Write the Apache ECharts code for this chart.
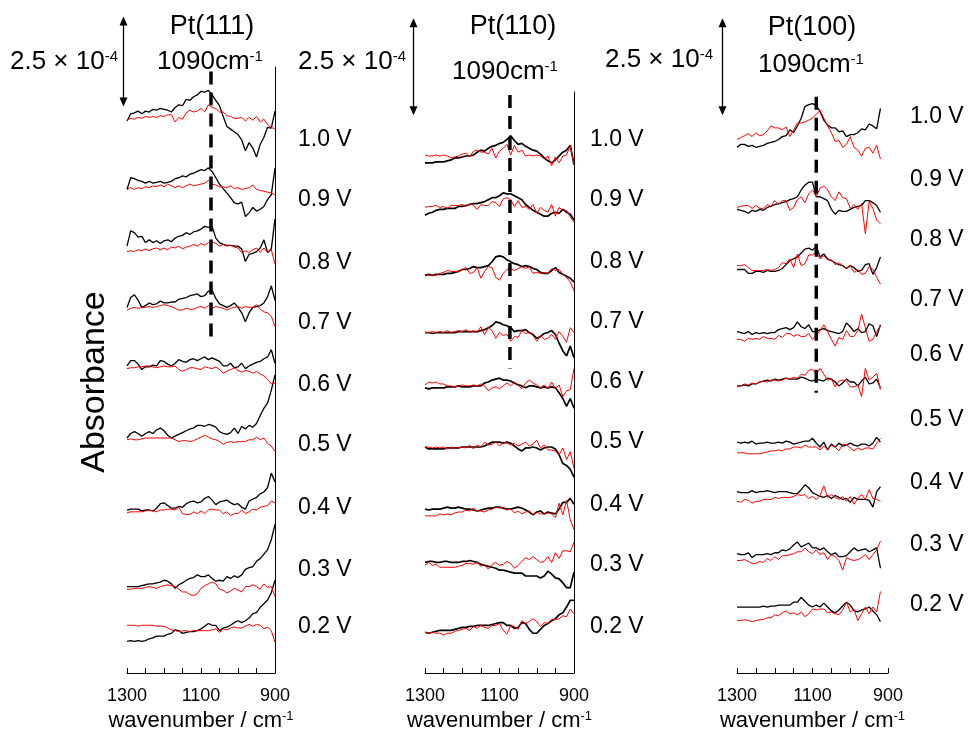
<!DOCTYPE html>
<html><head><meta charset="utf-8">
<script src="https://cdn.jsdelivr.net/npm/echarts@6/dist/echarts.min.js"></script>
<style>html,body{margin:0;padding:0;background:#fff}#c{width:969px;height:730px}</style>
</head><body><div id="c"></div>
<script>
// ---------------- DATA ----------------
// y values: absorbance in units of 2.5e-6 (scale bar 2.5e-4 = 100 units)
const voltages = ['1.0 V','0.9 V','0.8 V','0.7 V','0.6 V','0.5 V','0.4 V','0.3 V','0.2 V'];
const panelTitles = ['Pt(111)','Pt(110)','Pt(100)'];
const tickLabels = [1300, 1100, 900];
const wnFull = [1300,1290,1280,1270,1260,1250,1240,1230,1220,1210,1200,1190,1180,1170,1160,1150,1140,1130,1120,1110,1100,1090,1080,1070,1060,1050,1040,1030,1020,1010,1000,990,980,970,960,950,940,930,920,910,900];
const wnShort = [1300,1290,1280,1270,1260,1250,1240,1230,1220,1210,1200,1190,1180,1170,1160,1150,1140,1130,1120,1110,1100,1090,1080,1070,1060,1050,1040,1030,1020,1010,1000,990,980,970,960,950,940,930,920];
const scaleBarUnits = 100; // 2.5e-4 absorbance

const offsets111 = [611,528,468,400,337,259,179,96,34];
const offsets110 = [526,472,410,351,294,232,169,114,42];
const offsets100 = [539,477,415,351,295,237,186,122,67];

const black111 = [
 [2,10,11,13,10,13,12,15,14,16,15,14,12,17,20,19,26,25,29,31,35,34,36,31,25,19,7,-4,-7,-10,-13,-19,-31,-22,-28,-38,-24,-16,-5,-6,13],
 [9,22,21,19,18,16,18,16,17,18,16,17,18,21,22,24,23,26,27,29,31,30,33,29,22,15,10,5,0,-6,-7,-5,-21,-17,-11,-15,-13,-10,-2,3,33],
 [6,23,21,16,17,10,13,10,12,9,12,13,11,15,17,18,21,19,22,23,25,28,27,28,15,10,8,7,7,6,6,3,-11,-3,-2,0,4,13,-1,3,36],
 [6,17,20,14,6,8,11,9,10,13,11,11,12,12,15,16,17,19,20,21,18,19,24,25,16,10,8,6,8,11,6,0,-10,0,6,7,8,11,18,30,14],
 [4,10,10,6,0,3,3,5,4,10,9,6,4,7,11,9,8,11,12,10,12,14,11,13,11,9,4,4,7,2,3,7,1,4,6,8,9,12,14,22,7],
 [2,7,9,7,4,7,9,7,11,13,10,5,2,4,6,8,10,12,13,16,16,15,17,16,14,9,7,6,8,13,7,15,12,16,14,18,27,35,41,55,72],
 [2,3,3,3,1,2,2,1,4,9,10,7,4,4,6,5,9,11,12,10,11,15,17,13,8,11,12,13,10,8,9,5,3,12,14,16,20,22,27,43,33],
 [0,0,0,0,1,2,3,3,4,5,7,6,3,-2,2,4,7,9,10,13,11,11,13,9,6,7,6,11,9,12,10,13,19,21,22,28,31,36,41,52,69],
 [1,2,1,2,1,2,4,5,7,7,7,9,10,14,13,10,11,12,12,13,15,18,21,19,19,13,16,17,19,22,24,22,24,27,32,33,39,43,47,55,69]
];
const red111 = [
 [3,5,4,6,5,7,6,7,6,8,7,9,9,1,6,4,11,14,12,13,16,12,20,17,16,12,12,8,7,5,5,6,2,6,3,7,1,4,-2,-5,-7],
 [9,11,9,11,10,12,11,13,12,14,12,15,13,11,13,11,13,15,13,14,15,16,19,15,14,12,12,11,13,10,11,9,10,11,14,9,8,7,6,5,3],
 [0,1,0,2,1,3,1,3,4,2,4,2,5,4,6,3,5,6,8,6,9,7,10,11,9,6,8,6,7,5,4,-1,1,-1,2,4,-1,4,-1,2,-14],
 [3,5,6,5,6,6,7,6,7,8,9,8,7,5,3,3,5,4,4,6,7,5,8,5,7,6,5,3,5,6,7,5,7,6,6,9,4,1,0,-4,-15],
 [1,2,2,3,3,4,4,3,2,3,4,3,3,4,0,-2,0,2,2,1,0,3,2,1,3,0,-4,-2,0,2,-1,-3,-1,-2,-4,-2,-5,-7,-11,-16,-15],
 [0,1,0,0,1,2,2,2,2,2,2,2,2,0,-2,-1,-1,-2,-1,1,3,5,3,1,0,-2,-5,-3,-2,-3,-2,-2,-2,0,0,3,0,2,-4,-7,-13],
 [-1,0,0,0,0,1,2,1,0,2,2,3,3,2,5,-2,-3,-3,0,-2,1,-2,2,3,2,2,-2,0,-4,-2,-2,2,-2,0,3,2,5,6,7,12,10],
 [-3,-3,-2,-2,-2,-1,0,-1,-2,0,1,2,1,0,-3,-6,-6,-9,-10,-8,-2,1,3,5,3,-3,-4,-7,-5,-2,-4,-6,0,0,2,0,-3,3,-1,0,-11],
 [19,19,19,18,19,19,19,19,18,18,18,16,14,13,12,13,13,12,13,13,13,13,13,14,15,11,15,14,16,17,16,16,18,20,18,20,19,15,17,13,0]
];
const black110 = [
 [0,0,0,1,1,1,2,3,5,5,6,7,7,8,11,13,12,15,17,18,20,21,24,28,23,19,20,17,15,13,12,9,5,2,0,3,7,11,13,18,-2],
 [0,2,3,5,6,6,7,7,7,9,9,10,11,12,12,13,14,16,18,18,20,23,22,22,20,18,16,11,8,5,3,1,-1,-1,2,3,2,6,3,1,-5],
 [0,1,0,1,1,1,2,2,3,4,6,6,7,9,8,8,9,10,14,19,20,19,16,14,12,11,9,10,9,7,6,3,2,2,5,8,3,1,-1,-3,-7],
 [0,0,-1,0,0,0,0,0,0,1,1,1,1,1,1,2,3,5,7,11,10,8,7,5,1,2,2,3,0,-2,-6,-4,-1,0,2,-2,-11,-19,-24,-14,-26],
 [0,-1,0,0,0,0,1,1,1,2,1,1,1,2,2,2,5,6,8,9,10,8,8,7,5,3,2,0,2,2,1,0,1,0,1,0,-5,-11,-19,-11,-21],
 [1,-1,-1,-1,-1,-1,0,0,0,0,1,1,1,1,1,1,2,4,6,6,6,5,6,5,2,-1,-3,0,0,1,0,-2,0,1,1,-1,-7,-16,-18,-22,-30],
 [0,-1,0,0,0,1,2,1,1,2,1,0,0,-1,-2,-1,0,1,1,2,2,1,0,0,1,2,1,-1,-3,-6,-3,-2,-5,-3,-4,-5,0,7,7,11,5],
 [0,1,1,0,0,1,1,0,0,0,1,1,2,1,0,-2,-3,-4,-5,-6,-8,-8,-9,-10,-11,-11,-11,-14,-14,-14,-14,-16,-14,-9,-12,-16,-17,-21,-26,-26,-10],
 [0,-1,0,1,2,2,2,2,3,4,5,5,6,6,7,7,7,7,8,9,10,10,7,7,4,5,10,9,3,-1,-1,3,7,9,12,14,18,20,26,33,33]
];
const red110 = [
 [8,7,7,8,7,8,7,5,6,7,9,10,6,12,13,11,11,9,15,5,12,15,19,8,18,11,13,7,8,7,8,7,4,7,-3,6,0,7,8,18,-2],
 [8,9,9,10,8,9,7,10,10,10,11,9,12,10,6,11,10,10,14,13,9,17,18,16,9,15,8,9,6,11,2,8,5,3,11,-1,8,5,5,-2,-7],
 [1,0,0,0,2,3,5,4,4,4,6,8,2,3,8,-3,4,9,8,-2,-5,2,6,7,5,7,9,7,9,2,3,2,3,2,7,5,6,1,-2,-7,-16],
 [0,0,1,0,1,0,2,0,1,2,1,3,0,2,0,6,-2,5,2,-6,0,-3,-2,-9,-4,-5,2,-1,0,-3,-9,-3,-7,-6,-2,-7,1,-4,-10,5,0],
 [3,6,5,6,4,4,2,2,1,2,3,2,2,3,2,4,2,-3,0,1,-1,2,5,2,6,3,-1,5,8,5,3,0,3,-1,6,-1,3,-9,-3,-2,20],
 [1,1,0,1,0,1,-1,1,0,0,1,0,3,-1,3,1,6,3,4,6,2,6,5,3,5,2,4,6,2,4,8,0,3,-2,-2,-3,-7,0,-12,-4,-21],
 [-7,-7,-7,-7,-5,-6,-5,-6,-4,-3,-3,-1,-2,1,-2,-2,-3,-1,0,2,1,2,-1,0,-4,-2,-5,-3,-2,-6,-3,-5,-5,-4,-5,-9,6,-6,9,-11,-21],
 [-3,0,-3,-2,-5,-5,-5,-5,-5,-4,-3,-1,-1,-2,0,-4,-2,-7,-2,0,-3,-2,1,-1,-6,-3,1,5,3,6,3,0,1,6,0,10,4,12,12,11,21],
 [0,-1,0,-1,-1,-3,-1,-1,1,2,3,4,2,6,4,7,5,4,7,7,9,2,-2,7,6,3,12,9,11,14,11,6,10,9,13,13,14,17,16,24,19]
];
const black100 = [
 [3,6,6,4,5,3,4,5,7,8,9,11,14,15,21,18,25,33,45,47,48,46,40,31,26,23,23,19,20,14,16,16,18,22,21,27,25,22,43],
 [1,0,-1,-3,0,-1,1,0,3,4,6,7,8,9,11,12,14,21,26,29,29,14,14,12,10,1,-4,0,-1,-1,1,3,4,5,10,10,8,5,-2],
 [1,1,1,-3,-3,-1,-1,-2,0,-1,-1,0,2,6,10,12,14,18,22,23,21,25,14,17,12,10,8,6,5,2,5,3,-1,0,6,7,-4,3,14],
 [1,0,-1,1,-2,0,-1,0,-1,0,0,3,4,5,3,5,11,6,4,8,1,1,3,4,2,1,0,-1,1,10,6,1,4,0,1,9,7,-4,8],
 [1,1,2,1,3,3,5,6,7,6,8,7,8,9,8,8,8,10,9,7,6,8,7,6,9,8,5,1,4,8,5,5,1,6,10,3,4,8,-1],
 [1,0,1,0,2,-1,0,0,1,0,0,1,0,2,1,-1,0,1,2,2,5,0,-4,1,-7,-1,-4,0,-3,-2,0,-2,-3,-1,-1,-3,0,6,1],
 [1,0,0,0,2,0,1,1,2,1,0,1,1,1,0,-1,-1,3,8,5,0,-2,-4,-5,-3,-6,-3,-5,-7,-6,-10,-5,-7,-7,-7,-8,-15,1,6],
 [1,0,0,2,-3,0,0,0,1,0,2,2,5,4,6,10,13,8,10,12,7,7,5,7,3,0,2,-2,-2,-1,3,7,4,5,6,3,5,7,-14],
 [1,1,1,1,1,1,1,2,1,2,2,3,3,3,3,6,6,11,7,3,1,3,1,5,1,-3,-5,-2,2,6,3,-3,-4,-2,-1,1,-3,-7,-14]
];
const red100 = [
 [11,13,15,17,14,18,15,16,20,25,23,23,21,24,14,21,28,28,29,31,33,37,41,33,25,18,9,10,3,6,14,3,0,-6,2,3,-3,5,-9],
 [3,4,5,5,2,5,2,2,6,4,10,6,10,10,0,3,11,14,8,17,21,14,23,25,21,14,10,19,13,12,2,6,1,7,-24,9,2,-10,-14],
 [5,5,6,3,0,0,0,0,1,0,1,3,8,7,12,3,17,5,7,16,16,19,12,15,11,11,6,8,5,2,5,-2,1,-4,-3,4,1,-7,-14],
 [-7,-7,-9,-6,-7,-6,-7,-4,-6,-6,-7,-3,-5,-1,-1,-4,-2,-4,-4,-1,-7,-3,2,8,1,-7,-14,-5,-7,2,-4,-4,2,19,5,-9,-7,1,7],
 [0,1,3,2,4,3,5,6,5,7,7,6,7,9,8,10,9,13,12,17,18,13,19,13,7,8,0,6,7,6,0,0,2,-10,19,7,10,14,-3],
 [-10,-10,-10,-11,-11,-11,-11,-10,-9,-8,-8,-7,-8,-6,-6,-4,-4,-5,-2,-4,-4,-4,-7,-3,-7,-2,-4,-8,-1,-2,-5,-8,-5,-7,-5,-5,-6,0,5],
 [-9,-10,-7,-8,-11,-9,-9,-7,-7,-7,-5,-6,-5,-5,-5,-4,-2,-3,-2,-6,-4,-7,-3,7,-5,-2,-5,-7,-4,-9,-4,-12,-6,-2,-7,3,-6,-7,-9],
 [-6,-6,-5,-7,-9,-9,-7,-8,-4,-6,-2,-5,-1,-1,0,1,3,3,7,3,1,5,0,2,-5,0,-2,-6,-16,-3,-5,-6,-5,-3,0,-5,0,5,14],
 [-13,-13,-12,-13,-14,-13,-12,-12,-10,-10,-7,-8,-5,-3,-6,-5,-7,-4,-9,-6,-1,-2,-1,-1,-5,-4,-6,-7,-2,6,-4,-1,-13,-6,1,-6,1,-4,17]
];
// marker (dashed line) wavenumbers as drawn, and scale-bar base levels
const markerWn = [1073, 1072, 1090];
const markerRange = [[368, 668], [314, 596], [289, 594]];
const scaleBarWn = [1311, 1332, 1340];
const scaleBarBase = [629, 575, 575];

// ---------------- LAYOUT ----------------
const FONT = 'Liberation Sans, Arial, sans-serif';
const panels = [
  {left:127, top:67, width:148, height:606, yMax:673, rightLine:true, wn:wnFull, off:offsets111, k:black111, r:red111, kw:1.3},
  {left:425, top:92, width:149, height:581, yMax:599, rightLine:true, wn:wnFull, off:offsets110, k:black110, r:red110, kw:1.7},
  {left:737, top:92, width:151, height:581, yMax:599, rightLine:false, wn:wnShort, off:offsets100, k:black100, r:red100, kw:1.3}
];
const vLabelX = [298, 590, 910];
const vLabelY = [
  [140,200,263,323,385,445,508,570,627],
  [140,200,262,322,382,442,505,565,627],
  [117,180,240,300,355,420,483,545,605]
];
const titlePos = [[212,27],[513,27],[812,28]];
const wnTextPos = [[210,62],[505,72],[811,65]];
const scaleTextPos = [[10,62],[298,62],[605,60]];

const grid = [], xAxis = [], yAxis = [], series = [];
panels.forEach((p, i) => {
  grid.push({left:p.left, top:p.top, width:p.width, height:p.height, outerBoundsMode:'none', containLabel:false});
  xAxis.push({
    gridIndex:i, type:'value', min:900, max:1300, interval:50, inverse:true,
    axisLine:{show:true, onZero:false, lineStyle:{color:'#000', width:1}},
    axisTick:{show:true, inside:true, length:5, lineStyle:{color:'#000', width:1}},
    splitLine:{show:false},
    axisLabel:{show:true, color:'#000', fontSize:18, fontFamily:FONT, margin:14,
      showMinLabel:true, showMaxLabel:true,
      formatter: v => tickLabels.includes(v) ? String(v) : ''},
    name:'wavenumber / cm{sup|-1}', nameLocation:'middle', nameGap:32,
    nameTextStyle:{color:'#000', fontSize:22, fontFamily:FONT,
      rich:{sup:{fontSize:13, fontFamily:FONT, color:'#000', verticalAlign:'top'}}}
  });
  yAxis.push({
    gridIndex:i, type:'value', min:0, max:p.yMax, position:'right',
    axisLine:{show:p.rightLine, onZero:false, lineStyle:{color:'#000', width:1}},
    axisTick:{show:false}, axisLabel:{show:false}, splitLine:{show:false}
  });
  for (let v = 0; v < voltages.length; v++) {
    series.push({
      type:'line', xAxisIndex:i, yAxisIndex:i, symbol:'none', silent:true, animation:false,
      lineStyle:{color:'#000', width:p.kw}, z:2,
      data:p.wn.map((w, j) => [w, p.off[v] + p.k[v][j]])
    });
    series.push({
      type:'line', xAxisIndex:i, yAxisIndex:i, symbol:'none', silent:true, animation:false,
      lineStyle:{color:'#ff0000', width:1}, z:3,
      data:p.wn.map((w, j) => [w, p.off[v] + p.r[v][j]])
    });
  }
  // dashed marker line
  series.push({
    type:'line', xAxisIndex:i, yAxisIndex:i, symbol:'none', silent:true, animation:false, z:4,
    lineStyle:{color:'#000', width:3.5, type:[13, 8]},
    data:[[markerWn[i], markerRange[i][1]], [markerWn[i], markerRange[i][0]]]
  });
  // scale bar (2.5e-4 absorbance), double-headed arrow drawn through the axes
  series.push({
    type:'custom', xAxisIndex:i, yAxisIndex:i, clip:false, silent:true, animation:false, z:4,
    encode:{x:0, y:[1, 2]},
    data:[[scaleBarWn[i], scaleBarBase[i], scaleBarBase[i] + scaleBarUnits]],
    renderItem:(params, api) => {
      const b = api.coord([api.value(0), api.value(1)]);
      const t = api.coord([api.value(0), api.value(2)]);
      const x = Math.round(t[0]) + 0.5;
      return {type:'group', children:[
        {type:'line', shape:{x1:x, y1:t[1] + 6, x2:x, y2:b[1] - 6}, style:{stroke:'#000', lineWidth:1.3}},
        {type:'polygon', shape:{points:[[x, t[1]], [x - 4, t[1] + 9], [x + 4, t[1] + 9]]}, style:{fill:'#000'}},
        {type:'polygon', shape:{points:[[x, b[1]], [x - 4, b[1] - 9], [x + 4, b[1] - 9]]}, style:{fill:'#000'}}
      ]};
    }
  });
});

const sup = {fontSize:15, fontFamily:FONT, fill:'#000', verticalAlign:'top'};
const graphic = [];
function txt(x, y, text, size, align, rich) {
  const st = {text, x:0, y:0, fill:'#000', fontSize:size, fontFamily:FONT,
    align:align, textAlign:align, verticalAlign:'middle', textVerticalAlign:'middle'};
  if (rich) st.rich = rich;
  return {type:'text', x, y, style:st, silent:true};
}
panels.forEach((p, i) => {
  graphic.push(txt(titlePos[i][0], titlePos[i][1], panelTitles[i], 27, 'center'));
  graphic.push(txt(wnTextPos[i][0], wnTextPos[i][1], '1090cm{sup|-1}', 26, 'center', {sup}));
  graphic.push(txt(scaleTextPos[i][0], scaleTextPos[i][1], '2.5 × 10{sup|-4}', 26, 'left', {sup}));
  voltages.forEach((v, k) => graphic.push(txt(vLabelX[i], vLabelY[i][k], v, 23, 'left')));
});
graphic.push({type:'text', x:95, y:382, rotation:Math.PI/2, silent:true,
  style:{text:'Absorbance', fill:'#000', fontSize:34, fontFamily:FONT,
    align:'center', textAlign:'center', verticalAlign:'middle', textVerticalAlign:'middle'}});

const chart = echarts.init(document.getElementById('c'), null, {renderer:'canvas'});
chart.setOption({animation:false, backgroundColor:'#fff', grid, xAxis, yAxis, series, graphic});
</script>
</body></html>
